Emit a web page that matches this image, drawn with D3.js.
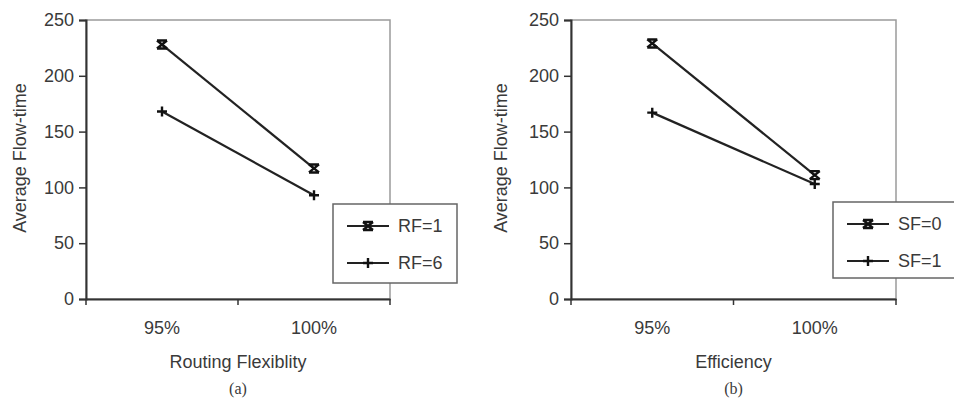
<!DOCTYPE html>
<html>
<head>
<meta charset="utf-8">
<script src="https://cdn.jsdelivr.net/npm/d3@7"></script>
<style>
  body { margin: 0; background: #fff; }
  svg text { font-family: "Liberation Sans", Arial, sans-serif; fill: #3a3a3a; }
</style>
</head>
<body>
<div id="d3"></div>
<script>
// values
const categories = ["95%", "100%"]
const yTicks = [0, 50, 100, 150, 200, 250]

const rfNames = ["RF=1", "RF=6"]
const rf1 = [228, 117]
const rf6 = [168, 93]

const sfNames = ["SF=0", "SF=1"]
const sf0 = [229, 111]
const sf1 = [167, 103]

const svg = d3.select("#d3").append("svg")
    .attr("width", 954)
    .attr("height", 403)

const starPath = "M-5,-4L5,-4M-5,4L5,4M-5,-4L5,4M5,-4L-5,4"
const plusPath = "M-5,0L5,0M0,-5L0,5"

const drawPanel = (cfg) => {
    const x = d3.scaleBand().domain(categories).range([cfg.left, cfg.right])
    const y = d3.scaleLinear().domain([0, 250]).range([299, 20])
    const g = svg.append("g")

    // frame (top + right in light gray)
    g.append("rect")
        .attr("x", cfg.left).attr("y", y(250))
        .attr("width", cfg.right - cfg.left).attr("height", y(0) - y(250))
        .attr("fill", "none").attr("stroke", "#9a9a9a").attr("stroke-width", 1.5)

    // y axis
    const ya = g.append("g")
        .attr("transform", "translate(" + cfg.left + ",0)")
        .call(d3.axisLeft(y).tickValues(yTicks).tickSize(7).tickPadding(5))
    ya.select(".domain").attr("stroke", "#333").attr("stroke-width", 2)
    ya.selectAll(".tick line").attr("stroke", "#333").attr("stroke-width", 1.5)
    ya.selectAll("text").style("font-size", "18px")

    // x axis: labels under bands, ticks at band edges
    const xa = g.append("g")
        .attr("transform", "translate(0," + y(0) + ")")
        .call(d3.axisBottom(x).tickSize(0).tickPadding(22))
    xa.select(".domain").attr("stroke", "#333").attr("stroke-width", 2)
    xa.selectAll("text").style("font-size", "18px")
    const edges = categories.map(c => x(c)).concat([x.range()[1]])
    g.selectAll(".edge")
        .data(edges)
        .enter().append("line")
        .attr("x1", d => d).attr("x2", d => d)
        .attr("y1", y(0)).attr("y2", y(0) + 6)
        .attr("stroke", "#333").attr("stroke-width", 1.5)

    // axis titles
    g.append("text")
        .attr("transform", "translate(" + cfg.yTitleX + ",158) rotate(-90)")
        .attr("text-anchor", "middle").attr("dy", "0.35em")
        .style("font-size", "18px")
        .text("Average Flow-time")
    g.append("text")
        .attr("x", (cfg.left + cfg.right) / 2).attr("y", 368)
        .attr("text-anchor", "middle")
        .style("font-size", "18px")
        .text(cfg.xTitle)
    g.append("text")
        .attr("x", (cfg.left + cfg.right) / 2).attr("y", 394)
        .attr("text-anchor", "middle")
        .style("font-size", "16px")
        .style("font-family", "'Liberation Serif', 'Times New Roman', serif")
        .text(cfg.caption)

    // series
    const line = d3.line()
        .x((d, i) => x(categories[i]) + x.bandwidth() / 2)
        .y(d => y(d))
    const markers = [starPath, plusPath]
    cfg.series.forEach((s, k) => {
        g.append("path")
            .datum(s)
            .attr("d", line)
            .attr("fill", "none").attr("stroke", "#222").attr("stroke-width", 2.2)
        g.selectAll(".m" + k)
            .data(s)
            .enter().append("path")
            .attr("transform", (d, i) => "translate(" + (x(categories[i]) + x.bandwidth() / 2) + "," + y(d) + ")")
            .attr("d", markers[k])
            .attr("fill", "none").attr("stroke", "#111").attr("stroke-width", 2.4)
    })

    // legend
    const lg = g.append("g")
    lg.append("rect")
        .attr("x", cfg.legend.x).attr("y", cfg.legend.y)
        .attr("width", cfg.legend.w).attr("height", cfg.legend.h)
        .attr("fill", "#fff").attr("stroke", "#666").attr("stroke-width", 1.5)
    cfg.names.forEach((name, k) => {
        const ly = cfg.legend.y + 22 + k * 37
        const lx = cfg.legend.x + 14
        lg.append("line")
            .attr("x1", lx).attr("x2", lx + 42)
            .attr("y1", ly).attr("y2", ly)
            .attr("stroke", "#222").attr("stroke-width", 2)
        lg.append("path")
            .attr("transform", "translate(" + (lx + 21) + "," + ly + ")")
            .attr("d", markers[k])
            .attr("fill", "none").attr("stroke", "#111").attr("stroke-width", 2.4)
        lg.append("text")
            .attr("x", lx + 51).attr("y", ly).attr("dy", "0.35em")
            .style("font-size", "18px")
            .text(name)
    })
}

drawPanel({
    left: 86, right: 390, yTitleX: 20,
    xTitle: "Routing Flexiblity", caption: "(a)",
    series: [rf1, rf6], names: rfNames,
    legend: {x: 333, y: 204, w: 124, h: 79}
})

drawPanel({
    left: 571, right: 896, yTitleX: 501,
    xTitle: "Efficiency", caption: "(b)",
    series: [sf0, sf1], names: sfNames,
    legend: {x: 833, y: 202, w: 130, h: 76}
})
</script>
</body>
</html>
